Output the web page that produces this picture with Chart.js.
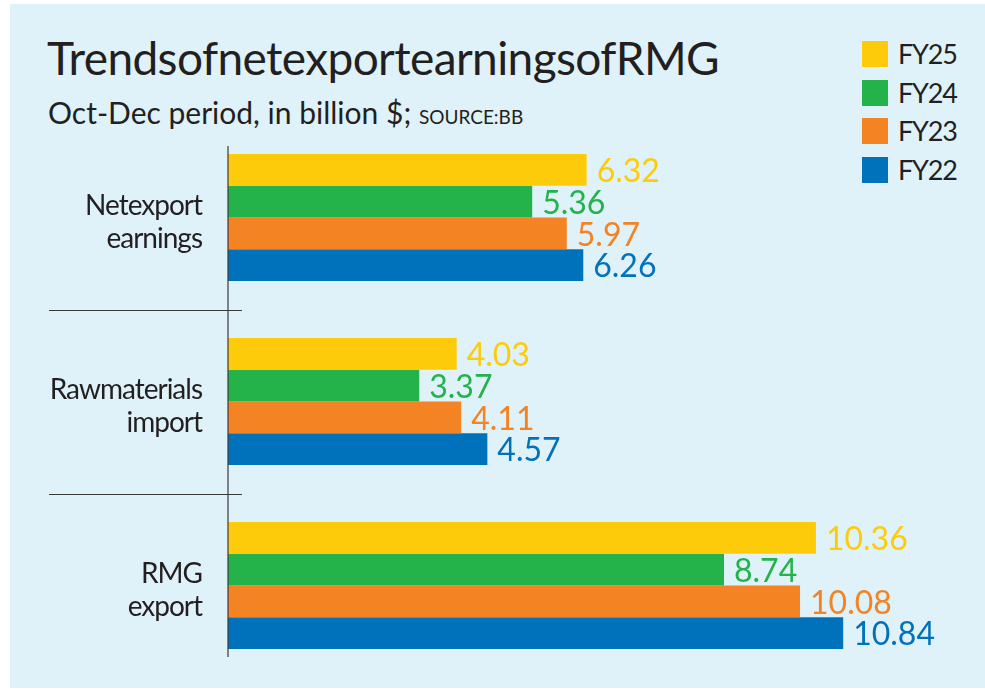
<!DOCTYPE html>
<html>
<head>
  <meta charset="utf-8">
  <title>Trends of net export earnings of RMG</title>
  <script src="https://cdn.jsdelivr.net/npm/chart.js"></script>
  <style>
    body {
      margin: 0;
      width: 985px;
      height: 690px;
      background: #ffffff;
      font-family: Lato, "Open Sans", sans-serif;
      color: #231f20;
      position: relative;
      overflow: hidden;
    }
    .panel {
      position: absolute;
      left: 10px;
      top: 4px;
      width: 975px;
      height: 684px;
      background: #dff2fa;
    }
    #title {
      position: absolute;
      left: 47px;
      top: 35px;
      font-size: 46px;
      line-height: 1;
      white-space: nowrap;
    }
    #subtitle {
      position: absolute;
      left: 48px;
      top: 97px;
      font-size: 30px;
      line-height: 1;
      white-space: nowrap;
    }
    #subtitle small {
      font-size: 19px;
    }
    .legend {
      position: absolute;
      left: 862px;
      top: 41px;
    }
    .legend div {
      height: 38.5px;
      display: flex;
      align-items: flex-start;
      font-size: 27px;
      letter-spacing: -1.2px;
      line-height: 26px;
    }
    .legend span.box {
      display: inline-block;
      width: 26px;
      height: 26px;
      margin-right: 10px;
    }
    canvas {
      position: absolute;
      left: 0;
      top: 0;
    }
  </style>
</head>
<body>
  <div class="panel"></div>
  <div id="title">TrendsofnetexportearningsofRMG</div>
  <div id="subtitle">Oct-Dec period, in billion $; <small>SOURCE:BB</small></div>
  <div class="legend" id="legend"></div>
  <canvas id="chart" width="985" height="690"></canvas>

  <script>
    // categories (top to bottom)
    const categories = [['Netexport', 'earnings'], ['Rawmaterials', 'import'], ['RMG', 'export']];

    // series values per category
    const seriesNames = ['FY25', 'FY24', 'FY23', 'FY22'];
    const fy25 = [6.32, 4.03, 10.36];
    const fy24 = [5.36, 3.37, 8.74];
    const fy23 = [5.97, 4.11, 10.08];
    const fy22 = [6.26, 4.57, 10.84];
    const seriesColors = ['#fecb0a', '#24b24b', '#f48323', '#0072bc'];

    const textColor = '#231f20';

    // legend built from the series
    const legendEl = document.getElementById('legend');
    seriesNames.forEach((name, i) => {
      const row = document.createElement('div');
      row.innerHTML = '<span class="box" style="background:' + seriesColors[i] + '"></span>' + name;
      legendEl.appendChild(row);
    });

    // squeeze title to the reference width
    const title = document.getElementById('title');
    const targetW = 672;
    const n = title.textContent.length;
    title.style.letterSpacing = ((targetW - title.getBoundingClientRect().width) / n) + 'px';

    // tighter tracking for the category labels
    const tracking = {
      id: 'tracking',
      beforeDraw(chart) { chart.ctx.letterSpacing = '-1px'; },
      beforeDatasetsDraw(chart) { chart.ctx.letterSpacing = '0px'; }
    };

    // value labels, drawn before bars so bars sit on top like the original
    const valueLabels = {
      id: 'valueLabels',
      beforeDatasetsDraw(chart) {
        const ctx = chart.ctx;
        ctx.save();
        ctx.font = '32px Lato, "Open Sans", sans-serif';
        ctx.textAlign = 'left';
        ctx.textBaseline = 'middle';
        chart.data.datasets.forEach((ds, i) => {
          const meta = chart.getDatasetMeta(i);
          ctx.fillStyle = ds.backgroundColor;
          meta.data.forEach((bar, j) => {
            ctx.fillText(ds.data[j].toFixed(2), bar.x + 10, bar.y + 2);
          });
        });
        ctx.restore();
      }
    };

    // vertical axis line and separators between groups
    const axisLines = {
      id: 'axisLines',
      afterDatasetsDraw(chart) {
        const ctx = chart.ctx;
        const y = chart.scales.y;
        const x0 = chart.chartArea.left;
        const step = y.getPixelForTick(1) - y.getPixelForTick(0);
        ctx.save();
        ctx.strokeStyle = '#3a3a3c';
        ctx.lineWidth = 1.2;
        ctx.beginPath();
        ctx.moveTo(x0, y.getPixelForTick(0) - step * 0.345 - 8);
        ctx.lineTo(x0, y.getPixelForTick(categories.length - 1) + step * 0.345 + 8);
        for (let i = 0; i < categories.length - 1; i++) {
          const yy = Math.round((y.getPixelForTick(i) + y.getPixelForTick(i + 1)) / 2) + 0.5;
          ctx.moveTo(49, yy);
          ctx.lineTo(x0 + 14, yy);
        }
        ctx.stroke();
        ctx.restore();
      }
    };

    const datasets = [fy25, fy24, fy23, fy22].map((data, i) => ({
      label: seriesNames[i],
      data: data,
      backgroundColor: seriesColors[i],
      borderWidth: 0,
      categoryPercentage: 0.69,
      barPercentage: 1.0
    }));

    new Chart(document.getElementById('chart'), {
      type: 'bar',
      data: {
        labels: categories,
        datasets: datasets
      },
      options: {
        indexAxis: 'y',
        responsive: false,
        animation: false,
        layout: {
          padding: { top: 125.5, bottom: 12.5, left: 0, right: 76 }
        },
        plugins: {
          legend: { display: false },
          tooltip: { enabled: false },
          title: { display: false }
        },
        scales: {
          x: {
            display: false,
            min: 0,
            max: 12
          },
          y: {
            grid: { display: false, drawTicks: false },
            border: { display: false },
            ticks: {
              color: textColor,
              padding: 26,
              labelOffset: 5,
              font: { family: 'Lato, "Open Sans", sans-serif', size: 28, lineHeight: 1.18 }
            },
            afterFit(scale) {
              scale.width = 228;
              scale.paddingTop = 0;
              scale.paddingBottom = 0;
            }
          }
        }
      },
      plugins: [tracking, valueLabels, axisLines]
    });
  </script>
</body>
</html>
